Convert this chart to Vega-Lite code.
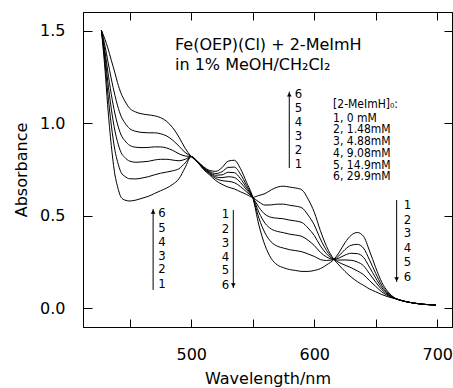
{
  "$schema": "https://vega.github.io/schema/vega-lite/v6.json",
  "autosize": {"type": "none"},
  "padding": {"left": 83, "top": 12, "right": 1, "bottom": 61},
  "width": 369,
  "height": 315,
  "background": "white",
  "view": {"stroke": "black", "strokeWidth": 1, "fill": "white"},
  "config": {
    "view": {"stroke": "black", "strokeWidth": 1},
    "axis": {"grid": false, "domainColor": "black", "tickColor": "black", "labelColor": "black", "titleColor": "black", "labelFont": "DejaVu Sans", "titleFont": "DejaVu Sans", "labelFontSize": 16, "titleFontSize": 16, "titleFontWeight": "normal", "tickWidth": 1, "domainWidth": 1}
  },
  "datasets": {
    "curves": [
      {"c":1,"wl":427,"A":1.5},{"c":2,"wl":427,"A":1.5},{"c":3,"wl":427,"A":1.5},{"c":4,"wl":427,"A":1.5},{"c":5,"wl":427,"A":1.5},{"c":6,"wl":427,"A":1.5},
      {"c":1,"wl":430,"A":1.28},{"c":2,"wl":430,"A":1.321},{"c":3,"wl":430,"A":1.353},{"c":4,"wl":430,"A":1.382},{"c":5,"wl":430,"A":1.413},{"c":6,"wl":430,"A":1.45},
      {"c":1,"wl":432,"A":1.10},{"c":2,"wl":432,"A":1.174},{"c":3,"wl":432,"A":1.233},{"c":4,"wl":432,"A":1.286},{"c":5,"wl":432,"A":1.342},{"c":6,"wl":432,"A":1.41},
      {"c":1,"wl":435,"A":0.88},{"c":2,"wl":435,"A":0.99},{"c":3,"wl":435,"A":1.078},{"c":4,"wl":435,"A":1.156},{"c":5,"wl":435,"A":1.239},{"c":6,"wl":435,"A":1.34},
      {"c":1,"wl":438,"A":0.72},{"c":2,"wl":438,"A":0.852},{"c":3,"wl":438,"A":0.957},{"c":4,"wl":438,"A":1.05},{"c":5,"wl":438,"A":1.149},{"c":6,"wl":438,"A":1.27},
      {"c":1,"wl":440,"A":0.66},{"c":2,"wl":440,"A":0.794},{"c":3,"wl":440,"A":0.901},{"c":4,"wl":440,"A":0.996},{"c":5,"wl":440,"A":1.097},{"c":6,"wl":440,"A":1.22},
      {"c":1,"wl":443,"A":0.60},{"c":2,"wl":443,"A":0.734},{"c":3,"wl":443,"A":0.841},{"c":4,"wl":443,"A":0.936},{"c":5,"wl":443,"A":1.037},{"c":6,"wl":443,"A":1.16},
      {"c":1,"wl":446,"A":0.585},{"c":2,"wl":446,"A":0.713},{"c":3,"wl":446,"A":0.815},{"c":4,"wl":446,"A":0.906},{"c":5,"wl":446,"A":1.002},{"c":6,"wl":446,"A":1.12},
      {"c":1,"wl":450,"A":0.58},{"c":2,"wl":450,"A":0.70},{"c":3,"wl":450,"A":0.795},{"c":4,"wl":450,"A":0.88},{"c":5,"wl":450,"A":0.97},{"c":6,"wl":450,"A":1.08},
      {"c":1,"wl":455,"A":0.585},{"c":2,"wl":455,"A":0.699},{"c":3,"wl":455,"A":0.789},{"c":4,"wl":455,"A":0.87},{"c":5,"wl":455,"A":0.956},{"c":6,"wl":455,"A":1.06},
      {"c":1,"wl":460,"A":0.595},{"c":2,"wl":460,"A":0.704},{"c":3,"wl":460,"A":0.791},{"c":4,"wl":460,"A":0.868},{"c":5,"wl":460,"A":0.95},{"c":6,"wl":460,"A":1.05},
      {"c":1,"wl":465,"A":0.605},{"c":2,"wl":465,"A":0.711},{"c":3,"wl":465,"A":0.794},{"c":4,"wl":465,"A":0.869},{"c":5,"wl":465,"A":0.948},{"c":6,"wl":465,"A":1.045},
      {"c":1,"wl":470,"A":0.62},{"c":2,"wl":470,"A":0.721},{"c":3,"wl":470,"A":0.801},{"c":4,"wl":470,"A":0.872},{"c":5,"wl":470,"A":0.948},{"c":6,"wl":470,"A":1.04},
      {"c":1,"wl":475,"A":0.635},{"c":2,"wl":475,"A":0.73},{"c":3,"wl":475,"A":0.805},{"c":4,"wl":475,"A":0.872},{"c":5,"wl":475,"A":0.943},{"c":6,"wl":475,"A":1.03},
      {"c":1,"wl":480,"A":0.65},{"c":2,"wl":480,"A":0.736},{"c":3,"wl":480,"A":0.805},{"c":4,"wl":480,"A":0.866},{"c":5,"wl":480,"A":0.931},{"c":6,"wl":480,"A":1.01},
      {"c":1,"wl":485,"A":0.67},{"c":2,"wl":485,"A":0.743},{"c":3,"wl":485,"A":0.801},{"c":4,"wl":485,"A":0.853},{"c":5,"wl":485,"A":0.908},{"c":6,"wl":485,"A":0.975},
      {"c":1,"wl":490,"A":0.70},{"c":2,"wl":490,"A":0.754},{"c":3,"wl":490,"A":0.797},{"c":4,"wl":490,"A":0.835},{"c":5,"wl":490,"A":0.876},{"c":6,"wl":490,"A":0.925},
      {"c":1,"wl":495,"A":0.76},{"c":2,"wl":495,"A":0.785},{"c":3,"wl":495,"A":0.805},{"c":4,"wl":495,"A":0.823},{"c":5,"wl":495,"A":0.842},{"c":6,"wl":495,"A":0.865},
      {"c":1,"wl":500,"A":0.82},{"c":2,"wl":500,"A":0.82},{"c":3,"wl":500,"A":0.82},{"c":4,"wl":500,"A":0.82},{"c":5,"wl":500,"A":0.82},{"c":6,"wl":500,"A":0.82},
      {"c":1,"wl":505,"A":0.795},{"c":2,"wl":505,"A":0.794},{"c":3,"wl":505,"A":0.793},{"c":4,"wl":505,"A":0.792},{"c":5,"wl":505,"A":0.791},{"c":6,"wl":505,"A":0.79},
      {"c":1,"wl":510,"A":0.765},{"c":2,"wl":510,"A":0.761},{"c":3,"wl":510,"A":0.759},{"c":4,"wl":510,"A":0.756},{"c":5,"wl":510,"A":0.753},{"c":6,"wl":510,"A":0.75},
      {"c":1,"wl":515,"A":0.745},{"c":2,"wl":515,"A":0.739},{"c":3,"wl":515,"A":0.734},{"c":4,"wl":515,"A":0.73},{"c":5,"wl":515,"A":0.726},{"c":6,"wl":515,"A":0.72},
      {"c":1,"wl":520,"A":0.74},{"c":2,"wl":520,"A":0.728},{"c":3,"wl":520,"A":0.719},{"c":4,"wl":520,"A":0.71},{"c":5,"wl":520,"A":0.701},{"c":6,"wl":520,"A":0.69},
      {"c":1,"wl":525,"A":0.76},{"c":2,"wl":525,"A":0.738},{"c":3,"wl":525,"A":0.721},{"c":4,"wl":525,"A":0.706},{"c":5,"wl":525,"A":0.69},{"c":6,"wl":525,"A":0.67},
      {"c":1,"wl":530,"A":0.795},{"c":2,"wl":530,"A":0.761},{"c":3,"wl":530,"A":0.735},{"c":4,"wl":530,"A":0.711},{"c":5,"wl":530,"A":0.686},{"c":6,"wl":530,"A":0.655},
      {"c":1,"wl":535,"A":0.80},{"c":2,"wl":535,"A":0.763},{"c":3,"wl":535,"A":0.733},{"c":4,"wl":535,"A":0.707},{"c":5,"wl":535,"A":0.679},{"c":6,"wl":535,"A":0.645},
      {"c":1,"wl":540,"A":0.755},{"c":2,"wl":540,"A":0.725},{"c":3,"wl":540,"A":0.701},{"c":4,"wl":540,"A":0.68},{"c":5,"wl":540,"A":0.658},{"c":6,"wl":540,"A":0.63},
      {"c":1,"wl":545,"A":0.68},{"c":2,"wl":545,"A":0.664},{"c":3,"wl":545,"A":0.652},{"c":4,"wl":545,"A":0.641},{"c":5,"wl":545,"A":0.629},{"c":6,"wl":545,"A":0.615},
      {"c":1,"wl":550,"A":0.60},{"c":2,"wl":550,"A":0.60},{"c":3,"wl":550,"A":0.60},{"c":4,"wl":550,"A":0.60},{"c":5,"wl":550,"A":0.60},{"c":6,"wl":550,"A":0.60},
      {"c":1,"wl":555,"A":0.45},{"c":2,"wl":555,"A":0.488},{"c":3,"wl":555,"A":0.519},{"c":4,"wl":555,"A":0.546},{"c":5,"wl":555,"A":0.575},{"c":6,"wl":555,"A":0.61},
      {"c":1,"wl":560,"A":0.34},{"c":2,"wl":560,"A":0.407},{"c":3,"wl":560,"A":0.46},{"c":4,"wl":560,"A":0.508},{"c":5,"wl":560,"A":0.558},{"c":6,"wl":560,"A":0.62},
      {"c":1,"wl":565,"A":0.27},{"c":2,"wl":565,"A":0.359},{"c":3,"wl":565,"A":0.429},{"c":4,"wl":565,"A":0.492},{"c":5,"wl":565,"A":0.559},{"c":6,"wl":565,"A":0.64},
      {"c":1,"wl":570,"A":0.235},{"c":2,"wl":570,"A":0.336},{"c":3,"wl":570,"A":0.416},{"c":4,"wl":570,"A":0.487},{"c":5,"wl":570,"A":0.563},{"c":6,"wl":570,"A":0.655},
      {"c":1,"wl":575,"A":0.22},{"c":2,"wl":575,"A":0.326},{"c":3,"wl":575,"A":0.409},{"c":4,"wl":575,"A":0.484},{"c":5,"wl":575,"A":0.563},{"c":6,"wl":575,"A":0.66},
      {"c":1,"wl":580,"A":0.21},{"c":2,"wl":580,"A":0.317},{"c":3,"wl":580,"A":0.401},{"c":4,"wl":580,"A":0.477},{"c":5,"wl":580,"A":0.557},{"c":6,"wl":580,"A":0.655},
      {"c":1,"wl":585,"A":0.205},{"c":2,"wl":585,"A":0.312},{"c":3,"wl":585,"A":0.396},{"c":4,"wl":585,"A":0.472},{"c":5,"wl":585,"A":0.552},{"c":6,"wl":585,"A":0.65},
      {"c":1,"wl":590,"A":0.20},{"c":2,"wl":590,"A":0.306},{"c":3,"wl":590,"A":0.389},{"c":4,"wl":590,"A":0.464},{"c":5,"wl":590,"A":0.543},{"c":6,"wl":590,"A":0.64},
      {"c":1,"wl":595,"A":0.20},{"c":2,"wl":595,"A":0.294},{"c":3,"wl":595,"A":0.368},{"c":4,"wl":595,"A":0.434},{"c":5,"wl":595,"A":0.504},{"c":6,"wl":595,"A":0.59},
      {"c":1,"wl":600,"A":0.205},{"c":2,"wl":600,"A":0.281},{"c":3,"wl":600,"A":0.34},{"c":4,"wl":600,"A":0.394},{"c":5,"wl":600,"A":0.451},{"c":6,"wl":600,"A":0.52},
      {"c":1,"wl":605,"A":0.215},{"c":2,"wl":605,"A":0.264},{"c":3,"wl":605,"A":0.303},{"c":4,"wl":605,"A":0.338},{"c":5,"wl":605,"A":0.375},{"c":6,"wl":605,"A":0.42},
      {"c":1,"wl":610,"A":0.235},{"c":2,"wl":610,"A":0.259},{"c":3,"wl":610,"A":0.278},{"c":4,"wl":610,"A":0.295},{"c":5,"wl":610,"A":0.313},{"c":6,"wl":610,"A":0.335},
      {"c":1,"wl":616,"A":0.265},{"c":2,"wl":616,"A":0.265},{"c":3,"wl":616,"A":0.265},{"c":4,"wl":616,"A":0.265},{"c":5,"wl":616,"A":0.265},{"c":6,"wl":616,"A":0.265},
      {"c":1,"wl":620,"A":0.30},{"c":2,"wl":620,"A":0.284},{"c":3,"wl":620,"A":0.272},{"c":4,"wl":620,"A":0.261},{"c":5,"wl":620,"A":0.249},{"c":6,"wl":620,"A":0.235},
      {"c":1,"wl":625,"A":0.355},{"c":2,"wl":625,"A":0.318},{"c":3,"wl":625,"A":0.288},{"c":4,"wl":625,"A":0.262},{"c":5,"wl":625,"A":0.234},{"c":6,"wl":625,"A":0.20},
      {"c":1,"wl":630,"A":0.395},{"c":2,"wl":630,"A":0.341},{"c":3,"wl":630,"A":0.298},{"c":4,"wl":630,"A":0.26},{"c":5,"wl":630,"A":0.22},{"c":6,"wl":630,"A":0.17},
      {"c":1,"wl":635,"A":0.41},{"c":2,"wl":635,"A":0.346},{"c":3,"wl":635,"A":0.296},{"c":4,"wl":635,"A":0.251},{"c":5,"wl":635,"A":0.203},{"c":6,"wl":635,"A":0.145},
      {"c":1,"wl":640,"A":0.39},{"c":2,"wl":640,"A":0.326},{"c":3,"wl":640,"A":0.276},{"c":4,"wl":640,"A":0.231},{"c":5,"wl":640,"A":0.183},{"c":6,"wl":640,"A":0.125},
      {"c":1,"wl":645,"A":0.31},{"c":2,"wl":645,"A":0.261},{"c":3,"wl":645,"A":0.222},{"c":4,"wl":645,"A":0.187},{"c":5,"wl":645,"A":0.15},{"c":6,"wl":645,"A":0.105},
      {"c":1,"wl":650,"A":0.22},{"c":2,"wl":650,"A":0.189},{"c":3,"wl":650,"A":0.164},{"c":4,"wl":650,"A":0.142},{"c":5,"wl":650,"A":0.119},{"c":6,"wl":650,"A":0.09},
      {"c":1,"wl":655,"A":0.14},{"c":2,"wl":655,"A":0.124},{"c":3,"wl":655,"A":0.112},{"c":4,"wl":655,"A":0.101},{"c":5,"wl":655,"A":0.089},{"c":6,"wl":655,"A":0.075},
      {"c":1,"wl":660,"A":0.09},{"c":2,"wl":660,"A":0.084},{"c":3,"wl":660,"A":0.078},{"c":4,"wl":660,"A":0.074},{"c":5,"wl":660,"A":0.069},{"c":6,"wl":660,"A":0.063},
      {"c":1,"wl":666,"A":0.055},{"c":2,"wl":666,"A":0.054},{"c":3,"wl":666,"A":0.054},{"c":4,"wl":666,"A":0.053},{"c":5,"wl":666,"A":0.053},{"c":6,"wl":666,"A":0.052},
      {"c":1,"wl":670,"A":0.045},{"c":2,"wl":670,"A":0.045},{"c":3,"wl":670,"A":0.045},{"c":4,"wl":670,"A":0.044},{"c":5,"wl":670,"A":0.044},{"c":6,"wl":670,"A":0.044},
      {"c":1,"wl":680,"A":0.03},{"c":2,"wl":680,"A":0.03},{"c":3,"wl":680,"A":0.03},{"c":4,"wl":680,"A":0.03},{"c":5,"wl":680,"A":0.03},{"c":6,"wl":680,"A":0.03},
      {"c":1,"wl":690,"A":0.022},{"c":2,"wl":690,"A":0.022},{"c":3,"wl":690,"A":0.022},{"c":4,"wl":690,"A":0.022},{"c":5,"wl":690,"A":0.022},{"c":6,"wl":690,"A":0.022},
      {"c":1,"wl":699,"A":0.018},{"c":2,"wl":699,"A":0.018},{"c":3,"wl":699,"A":0.018},{"c":4,"wl":699,"A":0.018},{"c":5,"wl":699,"A":0.018},{"c":6,"wl":699,"A":0.018}
    ],
    "arrows": [
      {"x": 469, "y1": 0.10, "y2": 0.537},
      {"x": 534.2, "y1": 0.531, "y2": 0.11},
      {"x": 579.7, "y1": 0.758, "y2": 1.17},
      {"x": 667, "y1": 0.585, "y2": 0.143}
    ],
    "heads": [
      {"x": 469, "y": 0.522, "shape": "triangle-up"},
      {"x": 534.2, "y": 0.125, "shape": "triangle-down"},
      {"x": 579.7, "y": 1.155, "shape": "triangle-up"},
      {"x": 667, "y": 0.158, "shape": "triangle-down"}
    ],
    "ticksTop": [
      {"x": 450, "y": 1.6}, {"x": 500, "y": 1.6}, {"x": 550, "y": 1.6}, {"x": 600, "y": 1.6}, {"x": 650, "y": 1.6}, {"x": 700, "y": 1.6}
    ],
    "digits": [
      {"x": 476.2, "y": 0.515, "t": "6"}, {"x": 476.2, "y": 0.434, "t": "5"}, {"x": 476.2, "y": 0.359, "t": "4"},
      {"x": 476.2, "y": 0.283, "t": "3"}, {"x": 476.2, "y": 0.213, "t": "2"}, {"x": 476.2, "y": 0.132, "t": "1"},
      {"x": 527.9, "y": 0.510, "t": "1"}, {"x": 527.9, "y": 0.429, "t": "2"}, {"x": 527.9, "y": 0.353, "t": "3"},
      {"x": 527.9, "y": 0.278, "t": "4"}, {"x": 527.9, "y": 0.208, "t": "5"}, {"x": 527.9, "y": 0.127, "t": "6"},
      {"x": 587.2, "y": 1.157, "t": "6"}, {"x": 587.2, "y": 1.082, "t": "5"}, {"x": 587.2, "y": 1.006, "t": "4"},
      {"x": 587.2, "y": 0.931, "t": "3"}, {"x": 587.2, "y": 0.855, "t": "2"}, {"x": 587.2, "y": 0.780, "t": "1"},
      {"x": 675.7, "y": 0.558, "t": "1"}, {"x": 675.7, "y": 0.477, "t": "2"}, {"x": 675.7, "y": 0.407, "t": "3"},
      {"x": 675.7, "y": 0.326, "t": "4"}, {"x": 675.7, "y": 0.250, "t": "5"}, {"x": 675.7, "y": 0.169, "t": "6"}
    ],
    "heading": [
      {"x": 486.8, "y": 1.395, "t": "Fe(OEP)(Cl) + 2-MeImH"},
      {"x": 486.8, "y": 1.287, "t": "in 1% MeOH/CH₂Cl₂"}
    ],
    "legend": [
      {"x": 615.3, "y": 1.082, "t": "[2-MeImH]₀:"},
      {"x": 615.3, "y": 1.009, "t": "1,   0   mM"},
      {"x": 615.3, "y": 0.947, "t": "2, 1.48mM"},
      {"x": 615.3, "y": 0.882, "t": "3, 4.88mM"},
      {"x": 615.3, "y": 0.817, "t": "4, 9.08mM"},
      {"x": 615.3, "y": 0.755, "t": "5, 14.9mM"},
      {"x": 615.3, "y": 0.693, "t": "6, 29.9mM"}
    ]
  },
  "resolve": {"scale": {"x": "shared", "y": "shared"}, "axis": {"x": "independent", "y": "independent"}},
  "layer": [
    {
      "data": {"name": "curves"},
      "mark": {"type": "line", "color": "black", "strokeWidth": 1, "interpolate": "monotone"},
      "encoding": {
        "x": {"field": "wl", "type": "quantitative", "scale": {"domain": [412, 712], "nice": false, "zero": false},
              "axis": {"orient": "bottom", "values": [450, 500, 550, 600, 650, 700], "labelExpr": "datum.value % 100 === 0 ? datum.label : ''", "tickSize": -8, "labelPadding": 27, "title": "Wavelength/nm", "titlePadding": 8, "labelFlush": false, "labelOverlap": false}},
        "y": {"field": "A", "type": "quantitative", "scale": {"domain": [-0.1, 1.6], "nice": false, "zero": false},
              "axis": {"orient": "left", "values": [0, 0.5, 1, 1.5], "format": ".1f", "tickSize": -9, "labelPadding": 27, "title": "Absorbance", "titlePadding": 10, "labelFlush": false, "labelOverlap": false}},
        "detail": {"field": "c", "type": "nominal"}
      }
    },
    {
      "data": {"name": "ticksTop"},
      "mark": {"type": "point", "opacity": 0},
      "encoding": {
        "x": {"field": "x", "type": "quantitative", "scale": {"domain": [412, 712], "nice": false, "zero": false},
              "axis": {"orient": "top", "values": [450, 500, 550, 600, 650, 700], "labels": false, "tickSize": -8, "title": null, "domain": true}},
        "y": {"field": "y", "type": "quantitative", "scale": {"domain": [-0.1, 1.6], "nice": false, "zero": false},
              "axis": {"orient": "right", "values": [0, 0.5, 1, 1.5], "labels": false, "tickSize": -8, "title": null, "domain": true}}
      }
    },
    {
      "data": {"name": "arrows"},
      "mark": {"type": "rule", "color": "black", "strokeWidth": 1},
      "encoding": {
        "x": {"field": "x", "type": "quantitative", "scale": {"domain": [412, 712], "nice": false, "zero": false}, "axis": null},
        "y": {"field": "y1", "type": "quantitative", "scale": {"domain": [-0.1, 1.6], "nice": false, "zero": false}, "axis": null},
        "y2": {"field": "y2"}
      }
    },
    {
      "data": {"name": "heads"},
      "mark": {"type": "point", "filled": true, "color": "black", "size": 22, "opacity": 1},
      "encoding": {
        "x": {"field": "x", "type": "quantitative", "scale": {"domain": [412, 712], "nice": false, "zero": false}, "axis": null},
        "y": {"field": "y", "type": "quantitative", "scale": {"domain": [-0.1, 1.6], "nice": false, "zero": false}, "axis": null},
        "shape": {"field": "shape", "type": "nominal", "scale": null, "legend": null}
      }
    },
    {
      "data": {"name": "digits"},
      "mark": {"type": "text", "color": "black", "font": "DejaVu Sans Condensed, Liberation Sans Narrow, DejaVu Sans", "fontSize": 13, "align": "center", "baseline": "middle"},
      "encoding": {
        "x": {"field": "x", "type": "quantitative", "scale": {"domain": [412, 712], "nice": false, "zero": false}, "axis": null},
        "y": {"field": "y", "type": "quantitative", "scale": {"domain": [-0.1, 1.6], "nice": false, "zero": false}, "axis": null},
        "text": {"field": "t"}
      }
    },
    {
      "data": {"name": "heading"},
      "mark": {"type": "text", "color": "black", "font": "DejaVu Sans", "fontSize": 16, "align": "left", "baseline": "alphabetic"},
      "encoding": {
        "x": {"field": "x", "type": "quantitative", "scale": {"domain": [412, 712], "nice": false, "zero": false}, "axis": null},
        "y": {"field": "y", "type": "quantitative", "scale": {"domain": [-0.1, 1.6], "nice": false, "zero": false}, "axis": null},
        "text": {"field": "t"}
      }
    },
    {
      "data": {"name": "legend"},
      "mark": {"type": "text", "color": "black", "font": "DejaVu Sans Condensed, Liberation Sans Narrow, DejaVu Sans", "fontSize": 12, "align": "left", "baseline": "alphabetic"},
      "encoding": {
        "x": {"field": "x", "type": "quantitative", "scale": {"domain": [412, 712], "nice": false, "zero": false}, "axis": null},
        "y": {"field": "y", "type": "quantitative", "scale": {"domain": [-0.1, 1.6], "nice": false, "zero": false}, "axis": null},
        "text": {"field": "t"}
      }
    }
  ]
}
